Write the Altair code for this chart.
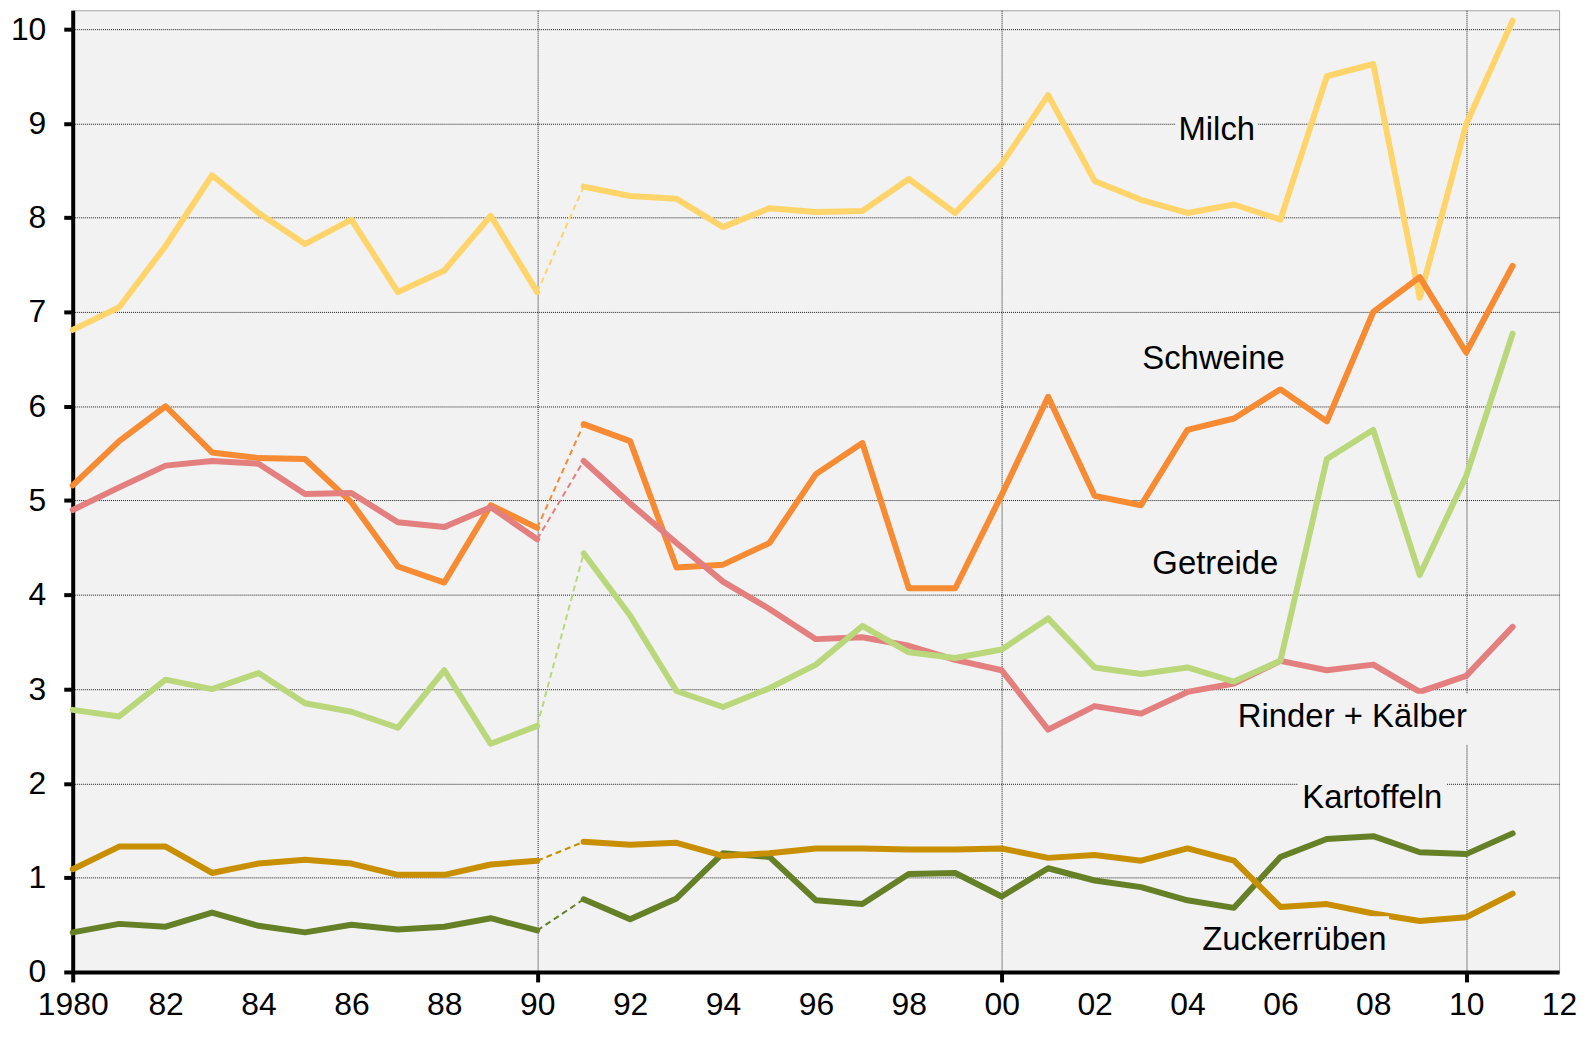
import altair as alt
import pandas as pd

years = list(range(1980, 2012))

milch = [6.81, 7.05, 7.70, 8.45, 8.05, 7.72, 7.98, 7.21, 7.44, 8.02, 7.21,
         8.33, 8.23, 8.20, 7.90, 8.10, 8.06, 8.07, 8.41, 8.05, 8.57, 9.30,
         8.39, 8.19, 8.05, 8.14, 7.98, 9.50, 9.63, 7.15, 8.99, 10.09]
schweine = [5.16, 5.63, 6.00, 5.51, 5.45, 5.44, 4.98, 4.30, 4.13, 4.95, 4.71,
            5.81, 5.63, 4.29, 4.32, 4.55, 5.28, 5.61, 4.07, 4.07, 5.06, 6.10,
            5.05, 4.95, 5.75, 5.87, 6.18, 5.84, 7.00, 7.37, 6.57, 7.49]
rinder = [4.90, 5.14, 5.37, 5.42, 5.39, 5.07, 5.08, 4.77, 4.72, 4.93, 4.59,
          5.42, 4.97, 4.55, 4.14, 3.85, 3.53, 3.55, 3.46, 3.31, 3.20, 2.57,
          2.82, 2.74, 2.97, 3.06, 3.30, 3.20, 3.26, 2.97, 3.14, 3.66]
getreide = [2.78, 2.71, 3.10, 3.00, 3.17, 2.85, 2.76, 2.59, 3.20, 2.42, 2.61,
            4.44, 3.78, 2.98, 2.81, 3.01, 3.26, 3.67, 3.39, 3.33, 3.42, 3.75,
            3.23, 3.16, 3.23, 3.08, 3.30, 5.44, 5.75, 4.21, 5.26, 6.77]
kartoffeln = [0.42, 0.51, 0.48, 0.63, 0.49, 0.42, 0.50, 0.45, 0.48, 0.57, 0.44,
              0.77, 0.56, 0.78, 1.26, 1.22, 0.76, 0.72, 1.04, 1.05, 0.80, 1.10,
              0.97, 0.90, 0.76, 0.68, 1.22, 1.41, 1.44, 1.27, 1.25, 1.47]
zucker = [1.09, 1.33, 1.33, 1.05, 1.15, 1.19, 1.15, 1.03, 1.03, 1.14, 1.18,
          1.38, 1.35, 1.37, 1.23, 1.26, 1.31, 1.31, 1.30, 1.30, 1.31, 1.21,
          1.24, 1.18, 1.31, 1.18, 0.69, 0.72, 0.62, 0.54, 0.58, 0.83]

series_names = ["Milch", "Schweine", "Rinder + Kälber", "Getreide", "Kartoffeln", "Zuckerrüben"]
series_values = [milch, schweine, rinder, getreide, kartoffeln, zucker]
series_colors = ["#FFD46B", "#F68B33", "#E37F7F", "#BAD87B", "#668027", "#C88F00"]

# annotation labels (data coordinates)
label_text = ["Milch", "Schweine", "Getreide", "Rinder + Kälber", "Kartoffeln", "Zuckerrüben"]
label_x = [2004.63, 2004.56, 2004.6, 2007.55, 2007.98, 2006.3]
label_y = [8.93, 6.50, 4.33, 2.70, 1.84, 0.34]
label_halfw = [0.89, 1.6, 1.42, 2.5, 1.6, 2.04]
label_halfh = 0.27

rows, gap_rows = [], []
for name, vals in zip(series_names, series_values):
    for yr, v in zip(years, vals):
        rows.append({"serie": name, "jahr": yr, "wert": v, "seg": "a" if yr <= 1990 else "b"})
    gap_rows.append({"serie": name, "jahr": 1990, "wert": vals[10]})
    gap_rows.append({"serie": name, "jahr": 1991, "wert": vals[11]})
df = pd.DataFrame(rows)
gap = pd.DataFrame(gap_rows)

lab = pd.DataFrame({
    "text": label_text,
    "x": label_x,
    "y": label_y,
    "x1": [a - w for a, w in zip(label_x, label_halfw)],
    "x2": [a + w for a, w in zip(label_x, label_halfw)],
    "y1": [b - 0.02 - label_halfh for b in label_y],
    "y2": [b - 0.02 + label_halfh for b in label_y],
})

FONT = "Liberation Sans"

xaxis = alt.Axis(
    values=list(range(1980, 2013, 2)),
    labelExpr="datum.value === 1980 ? '1980' : ((datum.value % 100) < 10 ? '0' : '') + (datum.value % 100)",
    title=None,
    labelFont=FONT, labelFontSize=32, labelColor="black", labelPadding=8,
    labelFlush=False, labelOverlap=False,
    domainColor="black", domainWidth=4,
    tickColor="black", tickWidth=4, tickSize=10,
    tickOpacity={"condition": {"test": "datum.value % 10 === 0", "value": 1}, "value": 0},
    grid=True, gridColor="#000000", gridDash=[1, 1], gridWidth=1,
    gridOpacity={"condition": {"test": "datum.value % 10 === 0", "value": 0.9}, "value": 0},
)
yaxis = alt.Axis(
    values=list(range(0, 11)),
    title=None,
    labelFont=FONT, labelFontSize=32, labelColor="black", labelPadding=18,
    domainColor="black", domainWidth=4,
    tickColor="black", tickWidth=4, tickSize=9,
    grid=True, gridColor="#000000", gridDash=[1, 1], gridWidth=1, gridOpacity=0.9,
)

xs = alt.Scale(domain=[1980, 2012], nice=False, zero=False)
ys = alt.Scale(domain=[0, 10.2], nice=False)
cs = alt.Scale(domain=series_names, range=series_colors)

X = alt.X("jahr:Q", scale=xs, axis=xaxis)
Y = alt.Y("wert:Q", scale=ys, axis=yaxis)

lines = alt.Chart(df).mark_line(strokeWidth=6, strokeJoin="round", strokeCap="round").encode(
    x=X, y=Y,
    color=alt.Color("serie:N", scale=cs, legend=None),
    detail="seg:N",
    order="jahr:Q",
)

gaps = alt.Chart(gap).mark_line(strokeWidth=2, strokeDash=[6, 4]).encode(
    x=X, y=Y,
    color=alt.Color("serie:N", scale=cs, legend=None),
)

boxes = alt.Chart(lab).mark_rect(fill="#F2F2F2").encode(
    x=alt.X("x1:Q", scale=xs, axis=xaxis), x2="x2:Q",
    y=alt.Y("y1:Q", scale=ys, axis=yaxis), y2="y2:Q",
)

texts = alt.Chart(lab).mark_text(font=FONT, fontSize=33, color="black", baseline="middle", align="center").encode(
    x=alt.X("x:Q", scale=xs, axis=xaxis),
    y=alt.Y("y:Q", scale=ys, axis=yaxis),
    text="text:N",
)

chart = alt.layer(gaps, lines, boxes, texts).properties(
    width=1493, height=966,
    padding={"left": 2, "top": 0, "right": 0, "bottom": 0},
).configure_view(
    fill="#F2F2F2", stroke="#A6A6A6", strokeWidth=1
)

chart.save("out.html", embed_options={"renderer": "svg", "actions": False})
